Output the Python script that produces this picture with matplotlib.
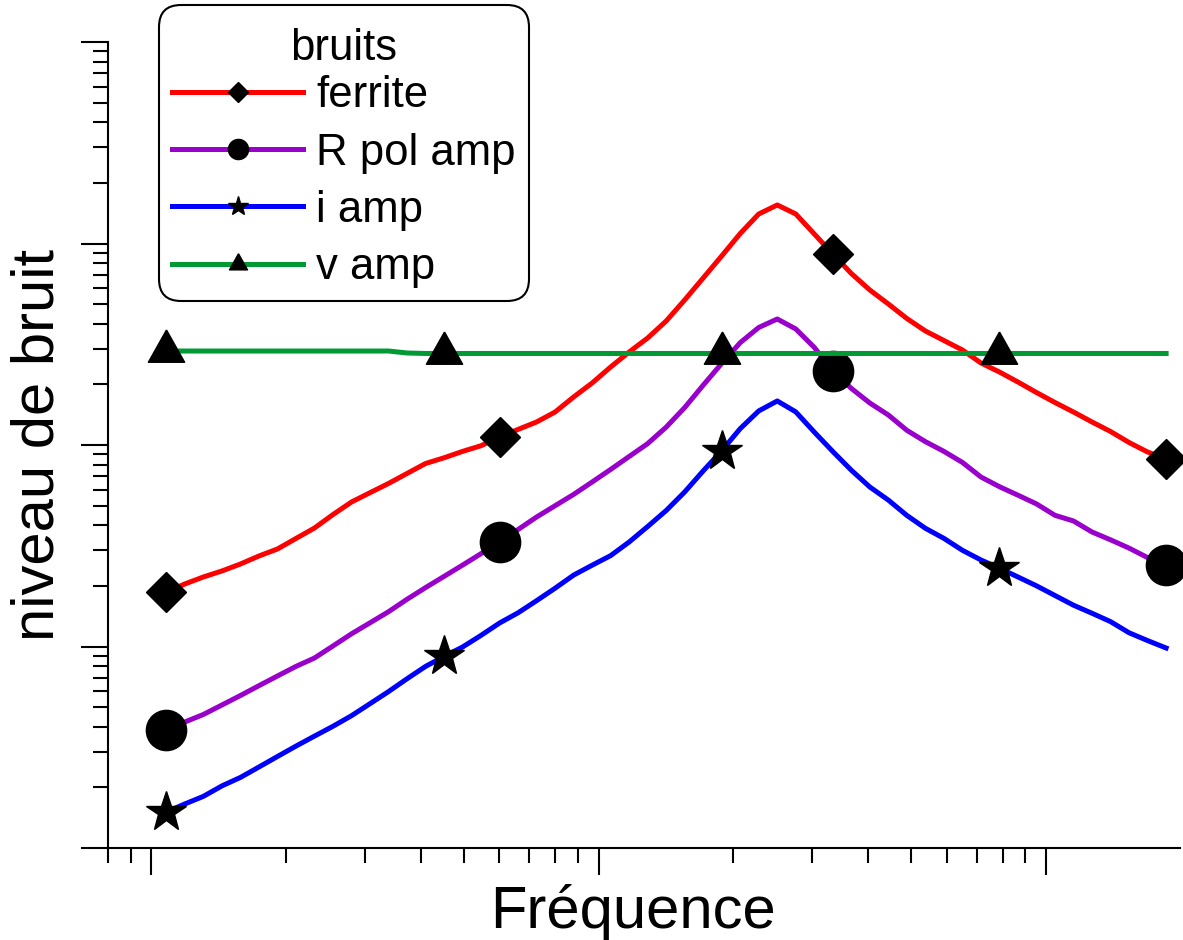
import numpy as np
import matplotlib
matplotlib.use("Agg")
import matplotlib.pyplot as plt
from matplotlib.ticker import LogLocator, NullFormatter

plt.rcParams['font.family'] = ['Liberation Sans', 'DejaVu Sans']

# --- data ---
freq = [10.80, 11.88, 13.07, 14.38, 15.82, 17.40, 19.14, 21.05, 23.16, 25.47,
        28.02, 30.82, 33.90, 37.29, 41.02, 45.12, 49.64, 54.60, 60.05, 66.06,
        72.66, 79.93, 87.92, 96.72, 106.4, 117.0, 128.7, 141.6, 155.7, 171.3,
        188.4, 207.3, 228.0, 250.8, 275.9, 303.5, 333.8, 367.2, 403.9, 444.3,
        488.7, 537.7, 591.5, 650.6, 715.7, 787.1, 865.9, 952.4, 1047.6, 1152.5,
        1267.8, 1394.6, 1534.1, 1687.6, 1856.4]

ferrite = [18.64, 20.43, 22.13, 23.70, 25.67, 28.13, 30.47, 34.36, 38.73, 45.15,
           52.13, 57.98, 64.42, 72.22, 80.93, 86.40, 92.96, 99.2, 109.6, 119.5,
           130.1, 145.8, 173.1, 203.1, 243.9, 289.4, 339.6, 412.5, 524.3, 674.3,
           867.0, 1121, 1401, 1553, 1401, 1115, 887.3, 709.9, 587.8, 501.0,
           424.5, 368.0, 330.0, 296.1, 255.3, 230.3, 205.4, 182.2, 162.5, 145.8,
           130.1, 116.7, 102.9, 92.3, 85.2]

r_pol_amp = [3.851, 4.220, 4.598, 5.125, 5.712, 6.391, 7.139, 7.964, 8.768, 10.06,
             11.56, 13.11, 14.88, 17.15, 19.60, 22.28, 25.35, 28.91, 33.00, 38.07,
             43.92, 49.98, 56.86, 65.53, 75.67, 87.69, 101.6, 122.7, 153.3, 198.1,
             253.9, 322.2, 383.0, 422.0, 376.5, 305.0, 232.9, 190.9, 161.6, 140.9,
             118.3, 103.9, 92.96, 81.94, 69.38, 62.11, 56.35, 51.02, 44.78, 41.96,
             37.00, 33.84, 30.78, 27.62, 25.38]

i_amp = [1.509, 1.654, 1.804, 2.033, 2.240, 2.523, 2.845, 3.203, 3.592, 4.018,
         4.535, 5.201, 5.973, 6.915, 7.964, 8.930, 9.943, 11.36, 13.08, 14.70,
         16.88, 19.47, 22.61, 25.32, 28.26, 33.00, 39.39, 47.30, 58.44, 74.39,
         93.59, 120.6, 147.6, 165.4, 146.0, 115.9, 92.84, 74.97, 61.89, 53.29,
         44.73, 38.60, 34.40, 30.02, 26.88, 24.46, 22.13, 20.01, 17.91, 16.03,
         14.62, 13.29, 11.70, 10.70, 9.83]

v_amp = [292.7, 292.7, 292.7, 292.7, 292.7, 292.7, 292.7, 292.7, 292.7, 292.7,
         292.7, 292.7, 292.7, 286.2, 284.6, 284.6, 284.6, 284.6, 284.6, 284.6,
         284.6, 284.6, 284.6, 284.6, 284.6, 284.6, 284.6, 284.6, 284.6, 284.6,
         284.6, 284.6, 284.6, 284.6, 284.6, 284.6, 284.6, 284.6, 284.6, 284.6,
         284.6, 284.6, 284.6, 284.6, 284.6, 284.6, 284.6, 284.6, 284.6, 284.6,
         284.6, 284.6, 284.6, 284.6, 284.6]

# which samples carry a symbol
marks_a = [0, 18, 36, 54]
marks_b = [0, 15, 30, 45]

# triangle centred on its centroid
tri = [(0, 1.187), (-1, -0.593), (1, -0.593), (0, 1.187)]

fig = plt.figure(figsize=(11.83, 9.40), dpi=100)
ax = fig.add_axes([108 / 1183, 92 / 940, 1071.6 / 1183, (848 - 42) / 940])

ax.plot(freq, ferrite, color='#FF0000', lw=3.6, marker='D', ms=20.5,
        mfc='black', mec='black', markevery=marks_a, clip_on=False, label='ferrite')
ax.plot(freq, r_pol_amp, color='#9900CC', lw=3.6, marker='o', ms=29,
        mfc='black', mec='black', markevery=marks_a, clip_on=False, label='R pol amp')
ax.plot(freq, i_amp, color='#0000FF', lw=3.6, marker='*', ms=30,
        mfc='black', mec='black', markevery=marks_b, clip_on=False, label='i amp')
ax.plot(freq, v_amp, color='#009933', lw=3.6, marker=tri, ms=31,
        mfc='black', mec='black', markevery=marks_b, clip_on=False, label='v amp')

ax.set_xscale('log')
ax.set_yscale('log')
ax.set_xlim(8, 1990)
ax.set_ylim(1, 1e4)

for axis in (ax.xaxis, ax.yaxis):
    axis.set_major_locator(LogLocator(base=10))
    axis.set_minor_locator(LogLocator(base=10, subs=np.arange(2, 10)))
    axis.set_major_formatter(NullFormatter())
    axis.set_minor_formatter(NullFormatter())

ax.spines['top'].set_visible(False)
ax.spines['right'].set_visible(False)
ax.spines['left'].set_linewidth(1.5)
ax.spines['bottom'].set_linewidth(1.5)
ax.tick_params(which='major', direction='out', length=19.5, width=1.5)
ax.tick_params(which='minor', direction='out', length=10.5, width=1.5)

ax.set_xlabel('Fréquence', fontsize=43)
ax.set_ylabel('niveau de bruit', fontsize=43)
ax.xaxis.set_label_coords(0.49, -0.045)
ax.yaxis.set_label_coords(-0.040, 0.5)

leg = ax.legend(title='bruits', fontsize=31.5, title_fontsize=31.5,
                loc='upper left', bbox_to_anchor=(159 / 1183, 1 - 5 / 940),
                bbox_transform=fig.transFigure, borderaxespad=0,
                markerscale=0.5, handlelength=3.0, handletextpad=0.3,
                labelspacing=0.37, borderpad=0.3, fancybox=True, framealpha=1)
leg.get_title().set_y(-10)
frame = leg.get_frame()
frame.set_edgecolor('black')
frame.set_linewidth(1.5)
frame.set_boxstyle('round,pad=0,rounding_size=0.5')

fig.savefig('out.png', dpi=100)
